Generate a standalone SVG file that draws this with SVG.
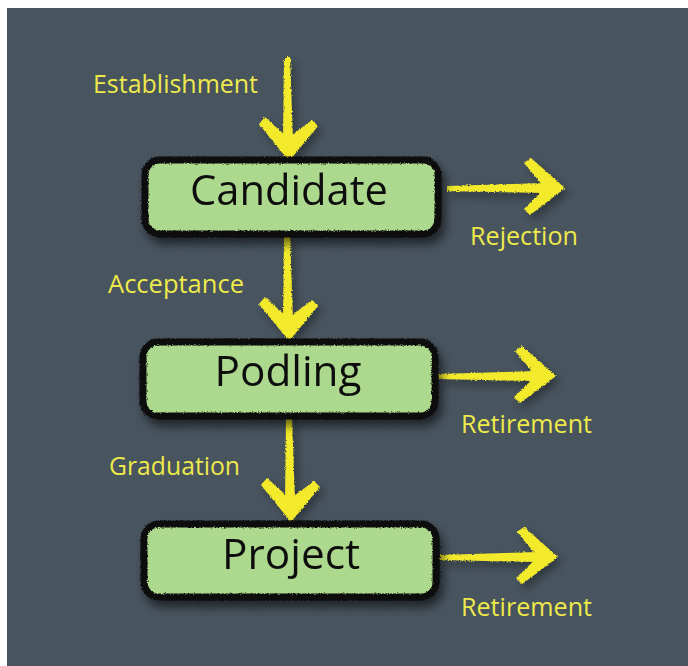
<svg xmlns="http://www.w3.org/2000/svg" width="688" height="666" viewBox="0 0 688 666">
  <defs>
    <filter id="shadow" x="-20%" y="-20%" width="150%" height="160%">
      <feDropShadow dx="4" dy="7" stdDeviation="5" flood-color="#000" flood-opacity="0.55"/>
    </filter>
    <filter id="ashadow" x="-30%" y="-30%" width="160%" height="160%">
      <feDropShadow dx="4" dy="5" stdDeviation="4" flood-color="#000" flood-opacity="0.35"/>
    </filter>
    <filter id="rough" x="-5%" y="-5%" width="110%" height="110%">
      <feTurbulence type="fractalNoise" baseFrequency="0.7" numOctaves="2" seed="3" result="n"/>
      <feDisplacementMap in="SourceGraphic" in2="n" scale="3" xChannelSelector="R" yChannelSelector="G"/>
    </filter>
    <style>
      .box { fill: #acd98d; stroke: #0b0b0b; stroke-width: 7; }
      .title { font-family: "Open Sans", "Noto Sans", sans-serif; font-size: 42px; fill: #111; text-anchor: middle; }
      .lbl { font-family: "Open Sans", "Noto Sans", sans-serif; font-size: 26px; fill: #eeea4c; }
      .arr { fill: #f2ea2c; }
    </style>
  </defs>

  <rect x="0" y="0" width="688" height="666" fill="#ffffff"/>
  <rect x="7" y="8" width="681" height="658" fill="#48545e"/>

  <g id="connectors">
    <g filter="url(#ashadow)">
      <g class="arr" filter="url(#rough)">
        <!-- Establishment down arrow -->
        <polygon points="284,57 290,57 293,142 283,142"/>
        <polygon points="259,124 265,117 288,138 312,120 318,126 289,161"/>
        <!-- Acceptance down arrow -->
        <polygon points="284,237 290,237 293,322 283,322"/>
        <polygon points="259,304 265,297 288,318 312,300 318,306 289,341"/>
        <!-- Graduation down arrow -->
        <polygon points="286,418 292,418 295,503 285,503"/>
        <polygon points="261,485 267,478 290,499 314,481 320,487 291,522"/>
        <!-- Rejection right arrow -->
        <polygon points="447,186 447,191 545,193 545,183"/>
        <polygon points="524,163 531,158 565,188 530,215 524,209 545,188"/>
        <!-- Retirement right arrow (Podling) -->
        <polygon points="438,374 438,379 536,381 536,371"/>
        <polygon points="515,351 522,346 556,376 520,403 514,397 536,376"/>
        <!-- Retirement right arrow (Project) -->
        <polygon points="440,555 440,560 538,562 538,552"/>
        <polygon points="517,532 524,527 558,557 522,584 516,578 538,557"/>
      </g>
    </g>
    <text class="lbl" x="93" y="93" textLength="165" lengthAdjust="spacingAndGlyphs">Establishment</text>
    <text class="lbl" x="470" y="245" textLength="108" lengthAdjust="spacingAndGlyphs">Rejection</text>
    <text class="lbl" x="108" y="293" textLength="136" lengthAdjust="spacingAndGlyphs">Acceptance</text>
    <text class="lbl" x="461" y="433" textLength="131" lengthAdjust="spacingAndGlyphs">Retirement</text>
    <text class="lbl" x="109" y="475" textLength="131" lengthAdjust="spacingAndGlyphs">Graduation</text>
    <text class="lbl" x="461" y="616" textLength="131" lengthAdjust="spacingAndGlyphs">Retirement</text>
  </g>

  <g id="candidate" filter="url(#shadow)">
    <rect class="box" x="145" y="160" width="293" height="74" rx="15" filter="url(#rough)"/>
    <text class="title" x="289" y="205" textLength="198" lengthAdjust="spacingAndGlyphs">Candidate</text>
  </g>

  <g id="podling" filter="url(#shadow)">
    <rect class="box" x="143" y="342" width="292" height="74" rx="15" filter="url(#rough)"/>
    <text class="title" x="288" y="386" textLength="147" lengthAdjust="spacingAndGlyphs">Podling</text>
  </g>

  <g id="project" filter="url(#shadow)">
    <rect class="box" x="144" y="524" width="292" height="73" rx="15" filter="url(#rough)"/>
    <text class="title" x="291" y="569" textLength="138" lengthAdjust="spacingAndGlyphs">Project</text>
  </g>
</svg>
